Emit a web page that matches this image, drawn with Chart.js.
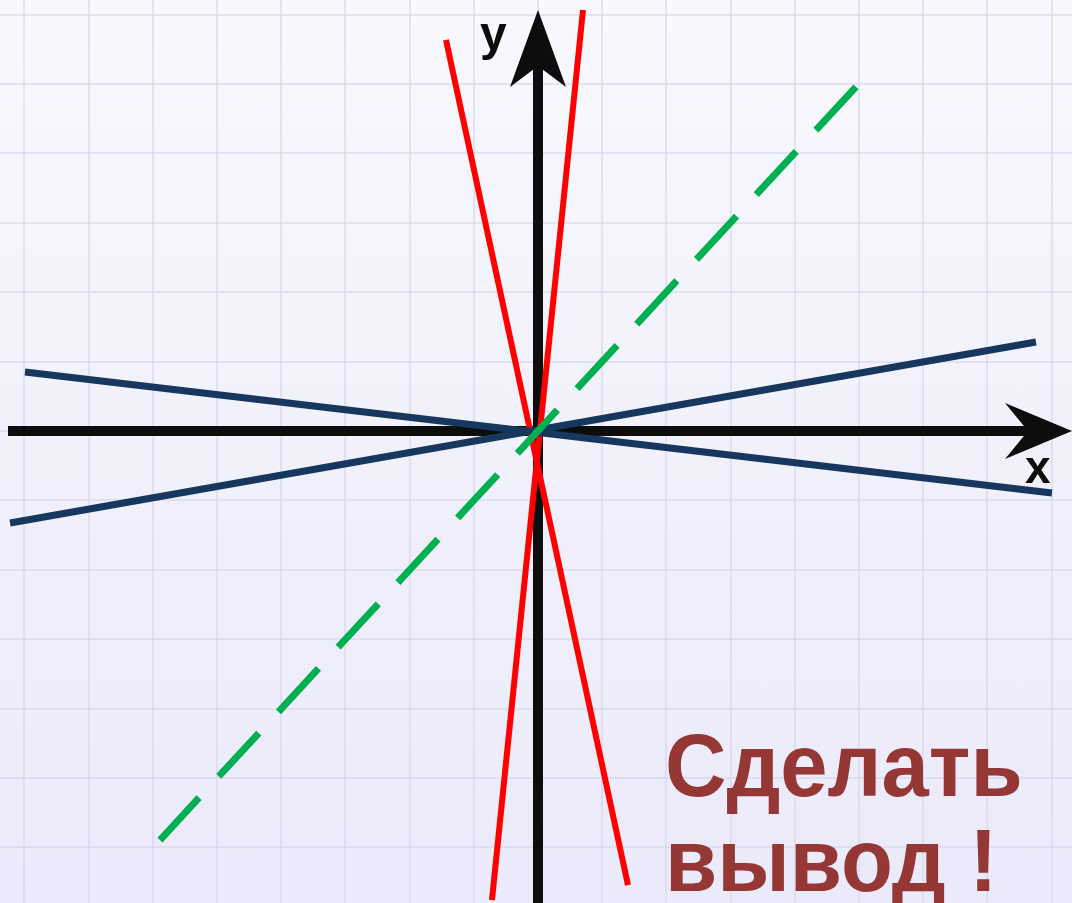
<!DOCTYPE html>
<html>
<head>
<meta charset="utf-8">
<script src="https://cdn.jsdelivr.net/npm/chart.js@4"></script>
<style>
  html, body { margin: 0; padding: 0; }
  body {
    width: 1072px; height: 903px; overflow: hidden; position: relative;
    background: linear-gradient(#f8f8fe, #eaeafa);
    font-family: "Liberation Sans", Arial, sans-serif;
  }
  #myChart { position: absolute; left: 0; top: 0; }
  .eje { position: absolute; font-weight: bold; color: #0d0d0d; }
  .vivod {
    position: absolute; left: 665px; top: 718px;
    font-size: 89px; line-height: 95px; font-weight: bold; color: #953735;
    transform: scaleX(0.955); transform-origin: left top;
  }
</style>
</head>
<body>
<canvas id="myChart" width="1072" height="903"></canvas>
<div class="eje" style="left:480px; top:6px; font-size:48px;">y</div>
<div class="eje" style="left:1025px; top:440px; font-size:46px;">x</div>
<div class="vivod">Сделать<br>вывод !</div>
<script>
// ventana de ejes (unidades de la cuadricula)
const xMin = -8.38, xMax = 8.318;
const yMin = -6.80, yMax = 6.21;

// rectas, cada una con sus dos extremos
const rojaA = [{ x: -1.433, y: 5.634 }, { x: 1.402, y: -6.542 }];
const rojaB = [{ x: 0.701, y: 6.066 }, { x: -0.717, y: -6.758 }];
const azulA = [{ x: -7.991, y: 0.85 }, { x: 8.006, y: -0.893 }];
const azulB = [{ x: -8.224, y: -1.326 }, { x: 7.757, y: 1.282 }];
const verde = [{ x: 4.953, y: 4.96 }, { x: -5.888, y: -5.893 }];

// ejes con sus flechas
const ejeX = [{ x: -8.255, y: 0 }, { x: 7.7, y: 0 }];
const ejeY = [{ x: 0, y: -6.85 }, { x: 0, y: 5.3 }];
const puntaX = { x: 8.318, y: 0 };
const puntaY = { x: 0, y: 6.066 };

const linea = (data, color, ancho, extra) => Object.assign({
  data: data,
  showLine: true,
  borderColor: color,
  borderWidth: ancho,
  pointRadius: 0,
  borderCapStyle: "butt",
}, extra || {});

/* las flechas se dibujan encima de los ejes */
const flechas = {
  id: "flechas",
  afterDatasetsDraw(chart) {
    const ctx = chart.ctx;
    const sx = chart.scales.x;
    const sy = chart.scales.y;
    ctx.save();
    ctx.fillStyle = "#0d0d0d";
    let tx = sx.getPixelForValue(puntaX.x);
    let ty = sy.getPixelForValue(puntaX.y);
    ctx.beginPath();
    ctx.moveTo(tx, ty);
    ctx.lineTo(tx - 67, ty - 28);
    ctx.lineTo(tx - 44, ty);
    ctx.lineTo(tx - 67, ty + 28);
    ctx.closePath();
    ctx.fill();
    tx = sx.getPixelForValue(puntaY.x);
    ty = sy.getPixelForValue(puntaY.y);
    ctx.beginPath();
    ctx.moveTo(tx, ty);
    ctx.lineTo(tx - 28, ty + 77);
    ctx.lineTo(tx, ty + 56);
    ctx.lineTo(tx + 28, ty + 77);
    ctx.closePath();
    ctx.fill();
    ctx.restore();
  },
};

// una linea de cuadricula por cada unidad entera
const enteros = (scale) => {
  const ticks = [];
  for (let v = Math.ceil(scale.min); v <= Math.floor(scale.max); v++) {
    ticks.push({ value: v });
  }
  scale.ticks = ticks;
};

const cuadricula = {
  color: "rgba(214,214,234,0.6)",
  lineWidth: 2,
  drawTicks: false,
};

const grafico = new Chart(document.getElementById("myChart"), {
  type: "scatter",
  data: {
    datasets: [
      linea(verde, "#00b050", 7, { borderDash: [59, 29] }),
      linea(azulA, "#17375e", 7),
      linea(azulB, "#17375e", 7),
      linea(rojaA, "#ff0000", 6),
      linea(rojaB, "#ff0000", 6),
      linea(ejeX, "#0d0d0d", 10),
      linea(ejeY, "#0d0d0d", 10),
    ],
  },
  options: {
    responsive: false,
    animation: false,
    layout: { padding: 0 },
    plugins: { legend: { display: false }, tooltip: { enabled: false } },
    scales: {
      x: {
        type: "linear", min: xMin, max: xMax,
        ticks: { display: false },
        afterBuildTicks: enteros,
        grid: cuadricula,
        border: { display: false },
      },
      y: {
        type: "linear", min: yMin, max: yMax,
        ticks: { display: false },
        afterBuildTicks: enteros,
        grid: cuadricula,
        border: { display: false },
      },
    },
  },
  plugins: [flechas],
});
</script>
</body>
</html>
